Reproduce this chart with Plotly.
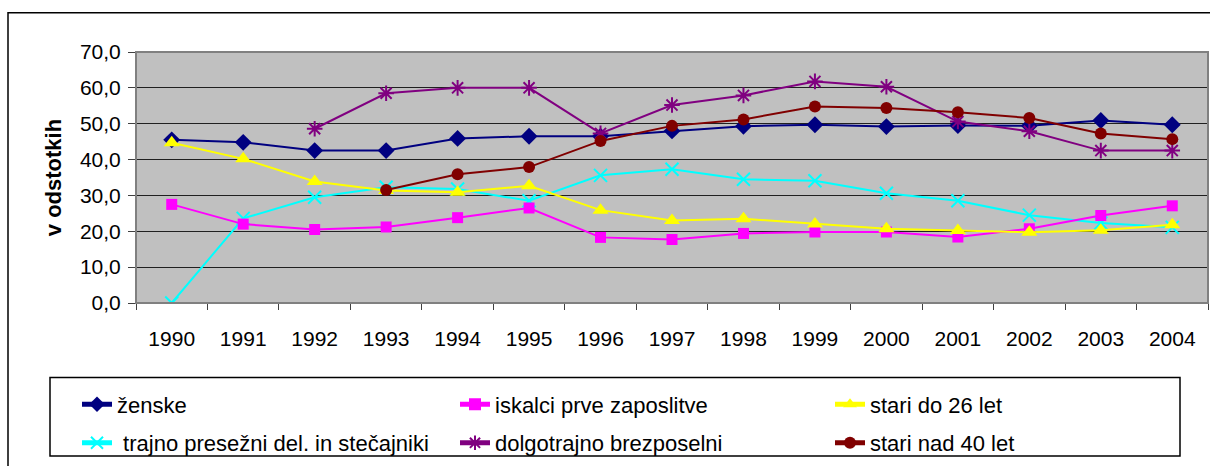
import plotly.graph_objects as go

years = ["1990", "1991", "1992", "1993", "1994", "1995", "1996", "1997",
         "1998", "1999", "2000", "2001", "2002", "2003", "2004"]

zenske = [45.5, 44.8, 42.5, 42.5, 45.9, 46.5, 46.5, 48.0, 49.3, 49.7, 49.2, 49.5, 49.4, 50.9, 49.7]
iskalci = [27.5, 22.0, 20.5, 21.2, 23.8, 26.5, 18.3, 17.7, 19.4, 19.8, 19.8, 18.4, 20.7, 24.4, 27.1]
stari_do_26 = [44.7, 40.2, 33.9, 31.4, 30.9, 32.7, 25.9, 23.0, 23.5, 22.0, 20.7, 20.2, 19.7, 20.3, 21.8]
trajno = [0.0, 23.6, 29.5, 32.3, 31.8, 28.5, 35.6, 37.3, 34.5, 34.1, 30.6, 28.5, 24.5, 22.3, 21.1]
dolgotrajno = [None, None, 48.6, 58.5, 60.0, 60.0, 47.3, 55.2, 57.9, 61.8, 60.3, 50.6, 47.9, 42.5, 42.5]
stari_nad_40 = [None, None, None, 31.5, 35.9, 37.9, 45.2, 49.4, 51.2, 54.8, 54.4, 53.2, 51.6, 47.3, 45.7]

y_ticks = [0, 10, 20, 30, 40, 50, 60, 70]
y_tick_text = ["0,0", "10,0", "20,0", "30,0", "40,0", "50,0", "60,0", "70,0"]

series = [
    ("ženske", zenske, "#000080", "diamond", 13, "legend"),
    ("\u00a0trajno presežni del. in stečajniki", trajno, "#00FFFF", "x-thin-open", 13, "legend"),
    ("iskalci prve zaposlitve", iskalci, "#FF00FF", "square", 11, "legend2"),
    ("dolgotrajno brezposelni", dolgotrajno, "#800080", "asterisk-open", 13, "legend2"),
    ("stari do 26 let", stari_do_26, "#FFFF00", "triangle-up", 14, "legend3"),
    ("stari nad 40 let", stari_nad_40, "#800000", "circle", 12, "legend3"),
]

fig = go.Figure()
for i, (name, vals, color, sym, size, leg) in enumerate(series):
    open_sym = sym.endswith("open")
    fig.add_trace(go.Scatter(
        x=years, y=vals, name=name, mode="lines+markers",
        line=dict(color=color, width=2),
        marker=dict(symbol=sym, size=size, color=color,
                    line=dict(color=color, width=2 if open_sym else 0)),
        legend=leg, legendgroup=f"g{i}",
    ))

W, H = 1210, 466
ml, mr, mt, mb = 136, 2, 52, 158
pw, ph = W - ml - mr, H - mt - mb

def px_x(p):
    return (p - ml) / pw

def px_y(p):
    return (H - mb - p) / ph

legend_font = dict(family="Liberation Sans, Arial", size=22, color="black")
legend_common = dict(orientation="v", xanchor="left", yanchor="top",
                     bgcolor="rgba(0,0,0,0)", font=legend_font,
                     tracegroupgap=7, itemsizing="constant")

fig.update_layout(
    width=W, height=H,
    margin=dict(l=ml, r=mr, t=mt, b=mb),
    paper_bgcolor="white",
    plot_bgcolor="#C0C0C0",
    font=dict(family="Liberation Sans, Arial", size=21, color="black"),
    showlegend=True,
    legend=dict(x=px_x(77), y=px_y(390), **legend_common),
    legend2=dict(x=px_x(455), y=px_y(390), **legend_common),
    legend3=dict(x=px_x(830), y=px_y(390), **legend_common),
    xaxis=dict(
        type="category", tickson="boundaries", ticks="outside", ticklen=6,
        tickcolor="#404040", showgrid=False, showline=True, linecolor="#404040",
        linewidth=1, mirror=False, tickfont=dict(size=21), range=[-0.5, 14.5],
        ticklabelstandoff=17,
    ),
    yaxis=dict(
        range=[0, 70], tickvals=y_ticks, ticktext=y_tick_text, ticks="outside",
        ticklen=7, tickcolor="#404040", showgrid=True, gridcolor="#202020",
        gridwidth=1, showline=True, linecolor="#404040", linewidth=1,
        zeroline=False, tickfont=dict(size=21), ticklabelstandoff=3,
        title=dict(text="<b>v odstotkih</b>", font=dict(size=22), standoff=12),
    ),
    shapes=[
        dict(type="rect", xref="paper", yref="paper",
             x0=0, x1=1, y0=0, y1=1,
             line=dict(color="#808080", width=2), layer="above"),
        dict(type="rect", xref="paper", yref="paper",
             x0=px_x(8), x1=px_x(1225), y0=px_y(480), y1=px_y(12),
             line=dict(color="black", width=1.5)),
        dict(type="rect", xref="paper", yref="paper",
             x0=px_x(50), x1=px_x(1180), y0=px_y(464), y1=px_y(384),
             line=dict(color="black", width=1.5)),
    ],
)

fig.write_html("out.html", config={"displayModeBar": False},
               post_script="document.body.style.margin='0';document.body.style.overflow='hidden';")
